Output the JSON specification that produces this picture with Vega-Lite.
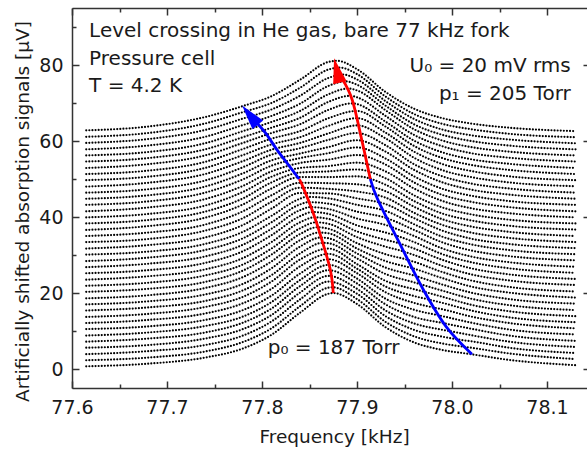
{
"$schema":"https://vega.github.io/schema/vega-lite/v6.json",
"width":515,"height":380,
"autosize":{"type":"none"},
"padding":{"left":72,"top":8,"right":0,"bottom":61},
"background":"white",
"config":{"view":{"stroke":null},
"axis":{"grid":false,"domainColor":"#333333","tickColor":"#333333","domainWidth":1.5,"tickWidth":1.5,"labelFont":"DejaVu Sans","labelFontSize":19,"labelColor":"#1a1a1a","titleFont":"DejaVu Sans","titleFontSize":18.5,"titleFontWeight":"normal","titleColor":"#1a1a1a","labelFlush":false,"labelOverlap":false}},
"datasets":{
"curves":[
{"c":0,"f":77.615,"v":0.7},{"c":0,"f":77.68,"v":1.4},{"c":0,"f":77.74,"v":3.0},{"c":0,"f":77.78,"v":5.4},{"c":0,"f":77.81,"v":9.0},{"c":0,"f":77.84,"v":14.8},{"c":0,"f":77.87,"v":19.8},{"c":0,"f":77.875,"v":20.0},{"c":0,"f":77.9,"v":17.1},{"c":0,"f":77.93,"v":11.0},{"c":0,"f":77.96,"v":7.0},{"c":0,"f":77.99,"v":5.0},{"c":0,"f":78.02,"v":3.9},{"c":0,"f":78.06,"v":2.4},{"c":0,"f":78.13,"v":1.0},
{"c":1,"f":77.615,"v":2.3},{"c":1,"f":77.68,"v":3.0},{"c":1,"f":77.74,"v":4.6},{"c":1,"f":77.78,"v":7.1},{"c":1,"f":77.81,"v":10.7},{"c":1,"f":77.84,"v":16.5},{"c":1,"f":77.87,"v":21.4},{"c":1,"f":77.874,"v":21.5},{"c":1,"f":77.9,"v":18.4},{"c":1,"f":77.93,"v":12.4},{"c":1,"f":77.96,"v":8.6},{"c":1,"f":77.99,"v":6.7},{"c":1,"f":78.014,"v":5.8},{"c":1,"f":78.02,"v":5.6},{"c":1,"f":78.06,"v":4.1},{"c":1,"f":78.13,"v":2.6},
{"c":2,"f":77.615,"v":3.9},{"c":2,"f":77.68,"v":4.7},{"c":2,"f":77.74,"v":6.3},{"c":2,"f":77.78,"v":8.8},{"c":2,"f":77.81,"v":12.5},{"c":2,"f":77.84,"v":18.3},{"c":2,"f":77.87,"v":23.0},{"c":2,"f":77.9,"v":19.8},{"c":2,"f":77.93,"v":13.9},{"c":2,"f":77.96,"v":10.3},{"c":2,"f":77.99,"v":8.5},{"c":2,"f":78.008,"v":7.7},{"c":2,"f":78.02,"v":7.3},{"c":2,"f":78.06,"v":5.6},{"c":2,"f":78.13,"v":4.2},
{"c":3,"f":77.615,"v":5.6},{"c":3,"f":77.68,"v":6.3},{"c":3,"f":77.74,"v":8.0},{"c":3,"f":77.78,"v":10.5},{"c":3,"f":77.81,"v":14.2},{"c":3,"f":77.84,"v":20.1},{"c":3,"f":77.87,"v":24.5},{"c":3,"f":77.9,"v":21.1},{"c":3,"f":77.93,"v":15.4},{"c":3,"f":77.96,"v":12.0},{"c":3,"f":77.99,"v":10.3},{"c":3,"f":78.001,"v":9.8},{"c":3,"f":78.02,"v":8.9},{"c":3,"f":78.06,"v":7.2},{"c":3,"f":78.13,"v":5.8},
{"c":4,"f":77.615,"v":7.2},{"c":4,"f":77.68,"v":8.0},{"c":4,"f":77.74,"v":9.6},{"c":4,"f":77.78,"v":12.2},{"c":4,"f":77.81,"v":15.9},{"c":4,"f":77.84,"v":21.8},{"c":4,"f":77.87,"v":26.0},{"c":4,"f":77.9,"v":22.5},{"c":4,"f":77.93,"v":17.0},{"c":4,"f":77.96,"v":13.7},{"c":4,"f":77.99,"v":12.1},{"c":4,"f":78.02,"v":10.6},{"c":4,"f":78.06,"v":8.8},{"c":4,"f":78.13,"v":7.4},
{"c":5,"f":77.615,"v":8.8},{"c":5,"f":77.68,"v":9.6},{"c":5,"f":77.74,"v":11.3},{"c":5,"f":77.78,"v":13.8},{"c":5,"f":77.81,"v":17.6},{"c":5,"f":77.84,"v":23.4},{"c":5,"f":77.87,"v":27.4},{"c":5,"f":77.9,"v":23.8},{"c":5,"f":77.93,"v":18.5},{"c":5,"f":77.96,"v":15.6},{"c":5,"f":77.99,"v":13.9},{"c":5,"f":78.02,"v":12.2},{"c":5,"f":78.06,"v":10.4},{"c":5,"f":78.13,"v":9.1},
{"c":6,"f":77.615,"v":10.5},{"c":6,"f":77.68,"v":11.2},{"c":6,"f":77.74,"v":12.9},{"c":6,"f":77.78,"v":15.5},{"c":6,"f":77.81,"v":19.3},{"c":6,"f":77.84,"v":25.1},{"c":6,"f":77.87,"v":28.9},{"c":6,"f":77.9,"v":25.2},{"c":6,"f":77.93,"v":20.2},{"c":6,"f":77.96,"v":17.4},{"c":6,"f":77.982,"v":16.1},{"c":6,"f":77.99,"v":15.7},{"c":6,"f":78.02,"v":13.8},{"c":6,"f":78.06,"v":12.1},{"c":6,"f":78.13,"v":10.7},
{"c":7,"f":77.615,"v":12.1},{"c":7,"f":77.68,"v":12.9},{"c":7,"f":77.74,"v":14.6},{"c":7,"f":77.78,"v":17.3},{"c":7,"f":77.81,"v":21.1},{"c":7,"f":77.84,"v":27.0},{"c":7,"f":77.87,"v":30.3},{"c":7,"f":77.9,"v":26.4},{"c":7,"f":77.93,"v":21.7},{"c":7,"f":77.96,"v":19.2},{"c":7,"f":77.977,"v":18.2},{"c":7,"f":77.99,"v":17.4},{"c":7,"f":78.02,"v":15.4},{"c":7,"f":78.06,"v":13.6},{"c":7,"f":78.13,"v":12.3},
{"c":8,"f":77.615,"v":13.7},{"c":8,"f":77.68,"v":14.5},{"c":8,"f":77.74,"v":16.3},{"c":8,"f":77.78,"v":19.0},{"c":8,"f":77.81,"v":23.0},{"c":8,"f":77.84,"v":28.8},{"c":8,"f":77.87,"v":31.7},{"c":8,"f":77.9,"v":27.6},{"c":8,"f":77.93,"v":23.2},{"c":8,"f":77.96,"v":21.0},{"c":8,"f":77.971,"v":20.3},{"c":8,"f":77.99,"v":19.0},{"c":8,"f":78.02,"v":16.9},{"c":8,"f":78.06,"v":15.2},{"c":8,"f":78.13,"v":13.9},
{"c":9,"f":77.615,"v":15.4},{"c":9,"f":77.68,"v":16.2},{"c":9,"f":77.74,"v":17.9},{"c":9,"f":77.78,"v":20.7},{"c":9,"f":77.81,"v":24.7},{"c":9,"f":77.84,"v":30.4},{"c":9,"f":77.864,"v":33.2},{"c":9,"f":77.87,"v":33.1},{"c":9,"f":77.9,"v":29.1},{"c":9,"f":77.93,"v":25.0},{"c":9,"f":77.96,"v":22.8},{"c":9,"f":77.99,"v":20.6},{"c":9,"f":78.02,"v":18.5},{"c":9,"f":78.06,"v":16.8},{"c":9,"f":78.13,"v":15.5},
{"c":10,"f":77.615,"v":17.0},{"c":10,"f":77.68,"v":17.8},{"c":10,"f":77.74,"v":19.6},{"c":10,"f":77.78,"v":22.4},{"c":10,"f":77.81,"v":26.5},{"c":10,"f":77.84,"v":32.2},{"c":10,"f":77.862,"v":34.6},{"c":10,"f":77.87,"v":34.4},{"c":10,"f":77.9,"v":30.4},{"c":10,"f":77.93,"v":26.7},{"c":10,"f":77.96,"v":24.6},{"c":10,"f":77.99,"v":22.2},{"c":10,"f":78.02,"v":20.1},{"c":10,"f":78.06,"v":18.4},{"c":10,"f":78.13,"v":17.2},
{"c":11,"f":77.615,"v":18.6},{"c":11,"f":77.68,"v":19.4},{"c":11,"f":77.74,"v":21.3},{"c":11,"f":77.78,"v":24.2},{"c":11,"f":77.81,"v":28.3},{"c":11,"f":77.84,"v":33.9},{"c":11,"f":77.86,"v":35.9},{"c":11,"f":77.87,"v":35.7},{"c":11,"f":77.9,"v":31.7},{"c":11,"f":77.93,"v":28.4},{"c":11,"f":77.96,"v":26.4},{"c":11,"f":77.99,"v":23.9},{"c":11,"f":78.02,"v":21.7},{"c":11,"f":78.06,"v":20.1},{"c":11,"f":78.13,"v":18.8},
{"c":12,"f":77.615,"v":20.3},{"c":12,"f":77.68,"v":21.1},{"c":12,"f":77.74,"v":22.9},{"c":12,"f":77.78,"v":25.9},{"c":12,"f":77.81,"v":30.1},{"c":12,"f":77.84,"v":35.5},{"c":12,"f":77.858,"v":37.3},{"c":12,"f":77.87,"v":36.9},{"c":12,"f":77.9,"v":33.1},{"c":12,"f":77.93,"v":30.2},{"c":12,"f":77.952,"v":28.8},{"c":12,"f":77.96,"v":28.2},{"c":12,"f":77.99,"v":25.5},{"c":12,"f":78.02,"v":23.3},{"c":12,"f":78.06,"v":21.6},{"c":12,"f":78.13,"v":20.4},
{"c":13,"f":77.615,"v":21.9},{"c":13,"f":77.68,"v":22.7},{"c":13,"f":77.74,"v":24.6},{"c":13,"f":77.78,"v":27.5},{"c":13,"f":77.81,"v":31.7},{"c":13,"f":77.84,"v":37.0},{"c":13,"f":77.857,"v":38.6},{"c":13,"f":77.87,"v":38.2},{"c":13,"f":77.9,"v":34.7},{"c":13,"f":77.93,"v":32.2},{"c":13,"f":77.948,"v":31.0},{"c":13,"f":77.96,"v":30.0},{"c":13,"f":77.99,"v":27.1},{"c":13,"f":78.02,"v":24.9},{"c":13,"f":78.06,"v":23.3},{"c":13,"f":78.13,"v":22.1},
{"c":14,"f":77.615,"v":23.5},{"c":14,"f":77.68,"v":24.4},{"c":14,"f":77.74,"v":26.2},{"c":14,"f":77.78,"v":29.2},{"c":14,"f":77.81,"v":33.4},{"c":14,"f":77.84,"v":38.6},{"c":14,"f":77.855,"v":39.9},{"c":14,"f":77.87,"v":39.5},{"c":14,"f":77.9,"v":36.2},{"c":14,"f":77.93,"v":34.0},{"c":14,"f":77.944,"v":33.1},{"c":14,"f":77.96,"v":31.7},{"c":14,"f":77.99,"v":28.7},{"c":14,"f":78.02,"v":26.5},{"c":14,"f":78.06,"v":24.9},{"c":14,"f":78.13,"v":23.7},
{"c":15,"f":77.615,"v":25.2},{"c":15,"f":77.68,"v":26.0},{"c":15,"f":77.74,"v":27.9},{"c":15,"f":77.78,"v":31.0},{"c":15,"f":77.81,"v":35.2},{"c":15,"f":77.84,"v":40.2},{"c":15,"f":77.853,"v":41.3},{"c":15,"f":77.87,"v":40.8},{"c":15,"f":77.9,"v":37.8},{"c":15,"f":77.93,"v":35.9},{"c":15,"f":77.94,"v":35.2},{"c":15,"f":77.96,"v":33.4},{"c":15,"f":77.99,"v":30.2},{"c":15,"f":78.02,"v":28.1},{"c":15,"f":78.06,"v":26.5},{"c":15,"f":78.13,"v":25.3},
{"c":16,"f":77.615,"v":26.8},{"c":16,"f":77.68,"v":27.7},{"c":16,"f":77.74,"v":29.6},{"c":16,"f":77.78,"v":32.7},{"c":16,"f":77.81,"v":36.9},{"c":16,"f":77.84,"v":41.8},{"c":16,"f":77.851,"v":42.6},{"c":16,"f":77.87,"v":42.1},{"c":16,"f":77.9,"v":39.6},{"c":16,"f":77.93,"v":37.9},{"c":16,"f":77.96,"v":35.0},{"c":16,"f":77.99,"v":31.7},{"c":16,"f":78.02,"v":29.6},{"c":16,"f":78.06,"v":28.1},{"c":16,"f":78.13,"v":26.9},
{"c":17,"f":77.615,"v":28.4},{"c":17,"f":77.68,"v":29.3},{"c":17,"f":77.74,"v":31.3},{"c":17,"f":77.78,"v":34.4},{"c":17,"f":77.81,"v":38.6},{"c":17,"f":77.84,"v":43.3},{"c":17,"f":77.849,"v":43.9},{"c":17,"f":77.87,"v":43.5},{"c":17,"f":77.9,"v":41.4},{"c":17,"f":77.93,"v":39.8},{"c":17,"f":77.96,"v":36.6},{"c":17,"f":77.99,"v":33.3},{"c":17,"f":78.02,"v":31.2},{"c":17,"f":78.06,"v":29.7},{"c":17,"f":78.13,"v":28.6},
{"c":18,"f":77.615,"v":30.1},{"c":18,"f":77.68,"v":30.9},{"c":18,"f":77.74,"v":32.9},{"c":18,"f":77.78,"v":36.1},{"c":18,"f":77.81,"v":40.3},{"c":18,"f":77.84,"v":44.8},{"c":18,"f":77.847,"v":45.3},{"c":18,"f":77.87,"v":44.9},{"c":18,"f":77.9,"v":43.2},{"c":18,"f":77.93,"v":41.6},{"c":18,"f":77.96,"v":38.1},{"c":18,"f":77.99,"v":34.8},{"c":18,"f":78.02,"v":32.8},{"c":18,"f":78.06,"v":31.3},{"c":18,"f":78.13,"v":30.2},
{"c":19,"f":77.615,"v":31.7},{"c":19,"f":77.68,"v":32.6},{"c":19,"f":77.74,"v":34.6},{"c":19,"f":77.78,"v":37.9},{"c":19,"f":77.81,"v":42.2},{"c":19,"f":77.84,"v":46.3},{"c":19,"f":77.87,"v":46.2},{"c":19,"f":77.9,"v":44.9},{"c":19,"f":77.93,"v":43.4},{"c":19,"f":77.96,"v":39.7},{"c":19,"f":77.99,"v":36.4},{"c":19,"f":78.02,"v":34.3},{"c":19,"f":78.06,"v":32.9},{"c":19,"f":78.13,"v":31.8},
{"c":20,"f":77.615,"v":33.4},{"c":20,"f":77.68,"v":34.2},{"c":20,"f":77.74,"v":36.4},{"c":20,"f":77.78,"v":39.7},{"c":20,"f":77.81,"v":44.0},{"c":20,"f":77.84,"v":47.7},{"c":20,"f":77.87,"v":47.4},{"c":20,"f":77.9,"v":46.7},{"c":20,"f":77.93,"v":45.1},{"c":20,"f":77.96,"v":41.1},{"c":20,"f":77.99,"v":37.9},{"c":20,"f":78.02,"v":35.9},{"c":20,"f":78.06,"v":34.5},{"c":20,"f":78.13,"v":33.4},
{"c":21,"f":77.615,"v":35.0},{"c":21,"f":77.68,"v":35.9},{"c":21,"f":77.74,"v":38.0},{"c":21,"f":77.78,"v":41.5},{"c":21,"f":77.81,"v":45.7},{"c":21,"f":77.84,"v":49.0},{"c":21,"f":77.87,"v":48.9},{"c":21,"f":77.9,"v":48.6},{"c":21,"f":77.93,"v":46.8},{"c":21,"f":77.96,"v":42.7},{"c":21,"f":77.99,"v":39.4},{"c":21,"f":78.02,"v":37.5},{"c":21,"f":78.06,"v":36.1},{"c":21,"f":78.13,"v":35.0},
{"c":22,"f":77.615,"v":36.6},{"c":22,"f":77.68,"v":37.6},{"c":22,"f":77.74,"v":39.8},{"c":22,"f":77.78,"v":43.3},{"c":22,"f":77.81,"v":47.5},{"c":22,"f":77.84,"v":50.5},{"c":22,"f":77.87,"v":50.5},{"c":22,"f":77.9,"v":50.7},{"c":22,"f":77.93,"v":48.5},{"c":22,"f":77.96,"v":44.2},{"c":22,"f":77.99,"v":40.9},{"c":22,"f":78.02,"v":39.1},{"c":22,"f":78.06,"v":37.7},{"c":22,"f":78.13,"v":36.7},
{"c":23,"f":77.615,"v":38.3},{"c":23,"f":77.68,"v":39.2},{"c":23,"f":77.74,"v":41.4},{"c":23,"f":77.78,"v":44.9},{"c":23,"f":77.81,"v":49.1},{"c":23,"f":77.84,"v":51.7},{"c":23,"f":77.87,"v":52.0},{"c":23,"f":77.9,"v":52.5},{"c":23,"f":77.93,"v":50.2},{"c":23,"f":77.96,"v":45.7},{"c":23,"f":77.99,"v":42.5},{"c":23,"f":78.02,"v":40.7},{"c":23,"f":78.06,"v":39.3},{"c":23,"f":78.13,"v":38.3},
{"c":24,"f":77.615,"v":39.9},{"c":24,"f":77.68,"v":40.8},{"c":24,"f":77.74,"v":43.0},{"c":24,"f":77.78,"v":46.6},{"c":24,"f":77.81,"v":50.6},{"c":24,"f":77.84,"v":52.9},{"c":24,"f":77.87,"v":53.4},{"c":24,"f":77.9,"v":54.3},{"c":24,"f":77.93,"v":52.0},{"c":24,"f":77.96,"v":47.5},{"c":24,"f":77.99,"v":44.2},{"c":24,"f":78.02,"v":42.3},{"c":24,"f":78.06,"v":41.0},{"c":24,"f":78.13,"v":39.9},
{"c":25,"f":77.615,"v":41.5},{"c":25,"f":77.68,"v":42.5},{"c":25,"f":77.74,"v":44.7},{"c":25,"f":77.78,"v":48.2},{"c":25,"f":77.81,"v":52.0},{"c":25,"f":77.84,"v":54.2},{"c":25,"f":77.87,"v":55.1},{"c":25,"f":77.9,"v":56.3},{"c":25,"f":77.93,"v":53.8},{"c":25,"f":77.96,"v":49.1},{"c":25,"f":77.99,"v":45.8},{"c":25,"f":78.02,"v":44.0},{"c":25,"f":78.06,"v":42.6},{"c":25,"f":78.13,"v":41.5},
{"c":26,"f":77.615,"v":43.2},{"c":26,"f":77.68,"v":44.1},{"c":26,"f":77.74,"v":46.4},{"c":26,"f":77.78,"v":49.9},{"c":26,"f":77.81,"v":53.5},{"c":26,"f":77.84,"v":55.5},{"c":26,"f":77.87,"v":56.8},{"c":26,"f":77.9,"v":58.3},{"c":26,"f":77.93,"v":55.4},{"c":26,"f":77.96,"v":50.7},{"c":26,"f":77.99,"v":47.4},{"c":26,"f":78.02,"v":45.6},{"c":26,"f":78.06,"v":44.2},{"c":26,"f":78.13,"v":43.2},
{"c":27,"f":77.615,"v":44.8},{"c":27,"f":77.68,"v":45.7},{"c":27,"f":77.74,"v":48.0},{"c":27,"f":77.78,"v":51.5},{"c":27,"f":77.81,"v":54.9},{"c":27,"f":77.84,"v":56.7},{"c":27,"f":77.87,"v":58.4},{"c":27,"f":77.9,"v":60.2},{"c":27,"f":77.93,"v":57.2},{"c":27,"f":77.96,"v":52.4},{"c":27,"f":77.99,"v":49.1},{"c":27,"f":78.02,"v":47.2},{"c":27,"f":78.06,"v":45.9},{"c":27,"f":78.13,"v":44.8},
{"c":28,"f":77.615,"v":46.4},{"c":28,"f":77.68,"v":47.3},{"c":28,"f":77.74,"v":49.6},{"c":28,"f":77.78,"v":53.1},{"c":28,"f":77.81,"v":56.4},{"c":28,"f":77.84,"v":58.1},{"c":28,"f":77.87,"v":60.3},{"c":28,"f":77.9,"v":62.1},{"c":28,"f":77.93,"v":58.9},{"c":28,"f":77.96,"v":53.9},{"c":28,"f":77.99,"v":50.7},{"c":28,"f":78.02,"v":48.8},{"c":28,"f":78.06,"v":47.5},{"c":28,"f":78.13,"v":46.4},
{"c":29,"f":77.615,"v":48.0},{"c":29,"f":77.68,"v":49.0},{"c":29,"f":77.74,"v":51.3},{"c":29,"f":77.78,"v":54.7},{"c":29,"f":77.81,"v":57.7},{"c":29,"f":77.84,"v":59.5},{"c":29,"f":77.87,"v":62.0},{"c":29,"f":77.9,"v":64.1},{"c":29,"f":77.93,"v":60.7},{"c":29,"f":77.96,"v":55.6},{"c":29,"f":77.99,"v":52.3},{"c":29,"f":78.02,"v":50.5},{"c":29,"f":78.06,"v":49.1},{"c":29,"f":78.13,"v":48.1},
{"c":30,"f":77.615,"v":49.7},{"c":30,"f":77.68,"v":50.6},{"c":30,"f":77.74,"v":52.9},{"c":30,"f":77.78,"v":56.3},{"c":30,"f":77.81,"v":59.1},{"c":30,"f":77.84,"v":61.0},{"c":30,"f":77.87,"v":64.0},{"c":30,"f":77.9,"v":66.0},{"c":30,"f":77.93,"v":62.2},{"c":30,"f":77.96,"v":57.2},{"c":30,"f":77.99,"v":53.9},{"c":30,"f":78.02,"v":52.1},{"c":30,"f":78.06,"v":50.7},{"c":30,"f":78.13,"v":49.7},
{"c":31,"f":77.615,"v":51.3},{"c":31,"f":77.68,"v":52.2},{"c":31,"f":77.74,"v":54.5},{"c":31,"f":77.78,"v":57.9},{"c":31,"f":77.81,"v":60.6},{"c":31,"f":77.84,"v":62.6},{"c":31,"f":77.87,"v":66.0},{"c":31,"f":77.9,"v":67.9},{"c":31,"f":77.93,"v":63.8},{"c":31,"f":77.96,"v":58.7},{"c":31,"f":77.99,"v":55.5},{"c":31,"f":78.02,"v":53.7},{"c":31,"f":78.06,"v":52.4},{"c":31,"f":78.13,"v":51.3},
{"c":32,"f":77.615,"v":52.9},{"c":32,"f":77.68,"v":53.9},{"c":32,"f":77.74,"v":56.2},{"c":32,"f":77.78,"v":59.5},{"c":32,"f":77.81,"v":62.1},{"c":32,"f":77.84,"v":64.4},{"c":32,"f":77.87,"v":68.2},{"c":32,"f":77.895,"v":69.9},{"c":32,"f":77.9,"v":69.7},{"c":32,"f":77.93,"v":65.1},{"c":32,"f":77.96,"v":60.1},{"c":32,"f":77.99,"v":57.0},{"c":32,"f":78.02,"v":55.2},{"c":32,"f":78.06,"v":54.0},{"c":32,"f":78.13,"v":52.9},
{"c":33,"f":77.615,"v":54.6},{"c":33,"f":77.68,"v":55.5},{"c":33,"f":77.74,"v":57.8},{"c":33,"f":77.78,"v":61.0},{"c":33,"f":77.81,"v":63.5},{"c":33,"f":77.84,"v":66.1},{"c":33,"f":77.87,"v":70.3},{"c":33,"f":77.893,"v":71.9},{"c":33,"f":77.9,"v":71.5},{"c":33,"f":77.93,"v":66.6},{"c":33,"f":77.96,"v":61.6},{"c":33,"f":77.99,"v":58.6},{"c":33,"f":78.02,"v":56.8},{"c":33,"f":78.06,"v":55.6},{"c":33,"f":78.13,"v":54.6},
{"c":34,"f":77.615,"v":56.2},{"c":34,"f":77.68,"v":57.1},{"c":34,"f":77.74,"v":59.4},{"c":34,"f":77.78,"v":62.6},{"c":34,"f":77.81,"v":65.0},{"c":34,"f":77.84,"v":67.9},{"c":34,"f":77.87,"v":72.3},{"c":34,"f":77.891,"v":73.8},{"c":34,"f":77.9,"v":73.3},{"c":34,"f":77.93,"v":68.1},{"c":34,"f":77.96,"v":63.1},{"c":34,"f":77.99,"v":60.1},{"c":34,"f":78.02,"v":58.4},{"c":34,"f":78.06,"v":57.2},{"c":34,"f":78.13,"v":56.2},
{"c":35,"f":77.615,"v":57.8},{"c":35,"f":77.68,"v":58.8},{"c":35,"f":77.74,"v":61.1},{"c":35,"f":77.78,"v":64.2},{"c":35,"f":77.81,"v":66.6},{"c":35,"f":77.84,"v":69.8},{"c":35,"f":77.87,"v":74.5},{"c":35,"f":77.888,"v":75.7},{"c":35,"f":77.9,"v":74.8},{"c":35,"f":77.93,"v":69.3},{"c":35,"f":77.96,"v":64.4},{"c":35,"f":77.99,"v":61.6},{"c":35,"f":78.02,"v":60.0},{"c":35,"f":78.06,"v":58.8},{"c":35,"f":78.13,"v":57.8},
{"c":36,"f":77.615,"v":59.5},{"c":36,"f":77.68,"v":60.5},{"c":36,"f":77.74,"v":62.9},{"c":36,"f":77.78,"v":65.9},{"c":36,"f":77.81,"v":68.3},{"c":36,"f":77.84,"v":71.9},{"c":36,"f":77.87,"v":76.6},{"c":36,"f":77.885,"v":77.5},{"c":36,"f":77.9,"v":76.2},{"c":36,"f":77.93,"v":70.5},{"c":36,"f":77.96,"v":65.8},{"c":36,"f":77.99,"v":63.0},{"c":36,"f":78.02,"v":61.5},{"c":36,"f":78.06,"v":60.4},{"c":36,"f":78.13,"v":59.4},
{"c":37,"f":77.615,"v":61.1},{"c":37,"f":77.68,"v":62.1},{"c":37,"f":77.74,"v":64.6},{"c":37,"f":77.78,"v":67.6},{"c":37,"f":77.81,"v":70.0},{"c":37,"f":77.84,"v":74.0},{"c":37,"f":77.87,"v":78.8},{"c":37,"f":77.882,"v":79.3},{"c":37,"f":77.9,"v":77.6},{"c":37,"f":77.93,"v":71.7},{"c":37,"f":77.96,"v":67.1},{"c":37,"f":77.99,"v":64.5},{"c":37,"f":78.02,"v":63.1},{"c":37,"f":78.06,"v":61.9},{"c":37,"f":78.13,"v":61.0},
{"c":38,"f":77.615,"v":62.8},{"c":38,"f":77.68,"v":63.8},{"c":38,"f":77.74,"v":66.3},{"c":38,"f":77.78,"v":69.2},{"c":38,"f":77.81,"v":71.8},{"c":38,"f":77.84,"v":76.1},{"c":38,"f":77.87,"v":80.8},{"c":38,"f":77.879,"v":81.1},{"c":38,"f":77.9,"v":78.9},{"c":38,"f":77.93,"v":72.9},{"c":38,"f":77.96,"v":68.5},{"c":38,"f":77.99,"v":66.0},{"c":38,"f":78.02,"v":64.6},{"c":38,"f":78.06,"v":63.5},{"c":38,"f":78.13,"v":62.6}
],
"arrows":[
{"s":"ra","col":"#ff0000","i":0,"f":77.875,"v":20.0},{"s":"ra","col":"#ff0000","i":1,"f":77.872,"v":26.0},{"s":"ra","col":"#ff0000","i":2,"f":77.863,"v":34.0},{"s":"ra","col":"#ff0000","i":3,"f":77.854,"v":41.0},{"s":"ra","col":"#ff0000","i":4,"f":77.843,"v":48.0},{"s":"ra","col":"#ff0000","i":5,"f":77.839,"v":50.0},
{"s":"ba","col":"#0000ff","i":0,"f":77.839,"v":50.0},{"s":"ba","col":"#0000ff","i":1,"f":77.827,"v":54.0},{"s":"ba","col":"#0000ff","i":2,"f":77.816,"v":57.6},{"s":"ba","col":"#0000ff","i":3,"f":77.804,"v":62.0},{"s":"ba","col":"#0000ff","i":4,"f":77.793,"v":65.2},
{"s":"bb","col":"#0000ff","i":0,"f":78.021,"v":3.9},{"s":"bb","col":"#0000ff","i":1,"f":77.994,"v":11.1},{"s":"bb","col":"#0000ff","i":2,"f":77.97,"v":20.8},{"s":"bb","col":"#0000ff","i":3,"f":77.945,"v":33.0},{"s":"bb","col":"#0000ff","i":4,"f":77.922,"v":44.5},{"s":"bb","col":"#0000ff","i":5,"f":77.914,"v":50.0},
{"s":"rb","col":"#ff0000","i":0,"f":77.914,"v":50.0},{"s":"rb","col":"#ff0000","i":1,"f":77.905,"v":60.3},{"s":"rb","col":"#ff0000","i":2,"f":77.895,"v":70.8},{"s":"rb","col":"#ff0000","i":3,"f":77.884,"v":76.5}
],
"heads":[
{"col":"#0000ff","f":77.7873,"v":66.8,"a":321},
{"col":"#ff0000","f":77.8789,"v":78.55,"a":346.5}
],
"tl":[
{"t":"Level crossing in He gas, bare 77 kHz fork","f":77.618,"v":87.3},
{"t":"Pressure cell","f":77.618,"v":80.0},
{"t":"T = 4.2 K","f":77.618,"v":72.8}
],
"tr":[
{"t":"U₀ = 20 mV rms","f":78.125,"v":78.2},
{"t":"p₁ = 205 Torr","f":78.125,"v":70.8}
],
"tp":[
{"t":"p₀ = 187 Torr","f":77.806,"v":3.9}
]
},
"layer":[
{"data":{"name":"curves"},
"mark":{"type":"line","interpolate":"monotone","strokeDash":[0,3.1],"strokeCap":"round","strokeWidth":2.2,"color":"#000000"},
"encoding":{
"x":{"field":"f","type":"quantitative","scale":{"domain":[77.6,78.1421],"nice":false,"zero":false},
"axis":{"orient":"bottom","values":[77.6,77.7,77.8,77.9,78.0,78.1],"format":".1f","ticks":false,"domain":true,"labelPadding":10,"title":"Frequency [kHz]","titleX":262,"titleY":54,"titleBaseline":"alphabetic"}},
"y":{"field":"v","type":"quantitative","scale":{"domain":[-5,95],"nice":false,"zero":false},
"axis":{"orient":"left","values":[0,20,40,60,80],"format":"d","ticks":false,"domain":true,"labelPadding":9,"title":"Artificially shifted absorption signals [μV]","titleX":-44,"titleY":203,"titleAngle":-90,"titleBaseline":"alphabetic","titleAlign":"center"}},
"detail":{"field":"c","type":"nominal"}}},
{"data":{"name":"arrows"},
"mark":{"type":"line","interpolate":"cardinal","strokeWidth":2.8},
"encoding":{
"x":{"field":"f","type":"quantitative","scale":{"domain":[77.6,78.1421],"nice":false,"zero":false},
"axis":{"orient":"bottom","offset":-7,"values":[77.6,77.7,77.8,77.9,78.0,78.1],"domain":false,"labels":false,"ticks":true,"tickSize":7,"title":null}},
"y":{"field":"v","type":"quantitative","scale":{"domain":[-5,95],"nice":false,"zero":false},
"axis":{"orient":"left","offset":-7,"values":[0,20,40,60,80],"domain":false,"labels":false,"ticks":true,"tickSize":7,"title":null}},
"color":{"field":"col","type":"nominal","scale":null},
"detail":{"field":"s","type":"nominal"},
"order":{"field":"i","type":"quantitative"}}},
{"data":{"name":"heads"},
"mark":{"type":"point","filled":true,"opacity":1,"shape":"M0,-1L0.55,1L-0.55,1Z","size":625,"strokeWidth":0},
"encoding":{
"x":{"field":"f","type":"quantitative","scale":{"domain":[77.6,78.1421],"nice":false,"zero":false},
"axis":{"orient":"bottom","offset":-4,"values":[77.65,77.75,77.85,77.95,78.05],"domain":false,"labels":false,"ticks":true,"tickSize":4,"title":null}},
"y":{"field":"v","type":"quantitative","scale":{"domain":[-5,95],"nice":false,"zero":false},
"axis":{"orient":"left","offset":-4,"values":[10,30,50,70,90],"domain":false,"labels":false,"ticks":true,"tickSize":4,"title":null}},
"color":{"field":"col","type":"nominal","scale":null},
"angle":{"field":"a","type":"quantitative","scale":null}}},
{"data":{"name":"tl"},
"mark":{"type":"text","align":"left","baseline":"alphabetic","font":"DejaVu Sans","fontSize":20,"color":"#1a1a1a"},
"encoding":{
"x":{"field":"f","type":"quantitative","scale":{"domain":[77.6,78.1421],"nice":false,"zero":false},
"axis":{"orient":"top","domain":true,"ticks":false,"labels":false,"title":null}},
"y":{"field":"v","type":"quantitative","scale":{"domain":[-5,95],"nice":false,"zero":false},
"axis":{"orient":"right","offset":-4,"values":[0,20,40,60,80],"domain":false,"labels":false,"ticks":true,"tickSize":4,"title":null}},
"text":{"field":"t","type":"nominal"}}},
{"data":{"name":"tr"},
"mark":{"type":"text","align":"right","baseline":"alphabetic","font":"DejaVu Sans","fontSize":20,"color":"#1a1a1a"},
"encoding":{
"x":{"field":"f","type":"quantitative","scale":{"domain":[77.6,78.1421],"nice":false,"zero":false},
"axis":{"orient":"top","offset":-7,"values":[77.6,77.7,77.8,77.9,78.0,78.1],"domain":false,"labels":false,"ticks":true,"tickSize":7,"title":null}},
"y":{"field":"v","type":"quantitative","scale":{"domain":[-5,95],"nice":false,"zero":false},"axis":null},
"text":{"field":"t","type":"nominal"}}},
{"data":{"name":"tp"},
"mark":{"type":"text","align":"left","baseline":"alphabetic","font":"DejaVu Sans","fontSize":20,"color":"#1a1a1a"},
"encoding":{
"x":{"field":"f","type":"quantitative","scale":{"domain":[77.6,78.1421],"nice":false,"zero":false},
"axis":{"orient":"top","offset":-4,"values":[77.65,77.75,77.85,77.95,78.05],"domain":false,"labels":false,"ticks":true,"tickSize":4,"title":null}},
"y":{"field":"v","type":"quantitative","scale":{"domain":[-5,95],"nice":false,"zero":false},"axis":null},
"text":{"field":"t","type":"nominal"}}}
],
"resolve":{"axis":{"x":"independent","y":"independent"}}
}
